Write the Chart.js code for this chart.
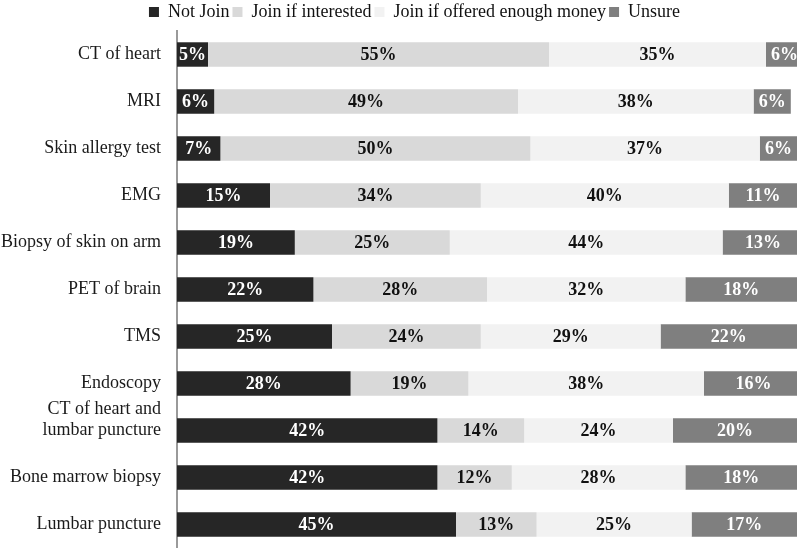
<!DOCTYPE html>
<html>
<head>
<meta charset="utf-8">
<script src="https://cdn.jsdelivr.net/npm/chart.js@4/dist/chart.umd.min.js"></script>
<style>
  html, body { margin: 0; padding: 0; background: #fff; }
  #wrap { width: 800px; height: 548px; position: relative; }
</style>
</head>
<body>
<div id="wrap"><canvas id="joinChart"></canvas></div>
<script>
// --- data ---
// (the empty third line lifts the two-line label so its 2nd line sits on the bar)
const procedures = [
    'CT of heart', 'MRI', 'Skin allergy test', 'EMG', 'Biopsy of skin on arm',
    'PET of brain', 'TMS', 'Endoscopy', ['CT of heart and', 'lumbar puncture', ''],
    'Bone marrow biopsy', 'Lumbar puncture'
];
const notJoin        = [5, 6, 7, 15, 19, 22, 25, 28, 42, 42, 45];
const joinInterested = [55, 49, 50, 34, 25, 28, 24, 19, 14, 12, 13];
const joinMoney      = [35, 38, 37, 40, 44, 32, 29, 38, 24, 28, 25];
const unsure         = [6, 6, 6, 11, 13, 18, 22, 16, 20, 18, 17];

const serif = "'Liberation Serif', 'Times New Roman', serif";

// draws the percent labels in the middle of each segment
const segmentLabels = {
    id: 'segmentLabels',
    afterDatasetsDraw(chart) {
        const ctx = chart.ctx;
        ctx.save();
        ctx.font = 'bold 18px ' + serif;
        ctx.textAlign = 'center';
        ctx.textBaseline = 'middle';
        chart.data.datasets.forEach((ds, i) => {
            const meta = chart.getDatasetMeta(i);
            meta.data.forEach((bar, j) => {
                const cx = (bar.x + bar.base) / 2;
                ctx.fillStyle = ds.labelColor;
                ctx.fillText(ds.data[j] + '%', cx, bar.y + 1);
            });
        });
        ctx.restore();
    }
};

// the original legend sits a little right of the page centre
const legendShift = {
    id: 'legendShift',
    afterLayout(chart) {
        if (chart.legend) chart.legend.left += 32;
    }
};

const ctxJoin = document.getElementById('joinChart');
new Chart(ctxJoin, {
    type: 'bar',
    data: {
        labels: procedures,
        datasets: [
            { label: 'Not Join', data: notJoin, backgroundColor: '#262626', labelColor: '#ffffff' },
            { label: 'Join if interested', data: joinInterested, backgroundColor: '#d9d9d9', labelColor: '#111111' },
            { label: 'Join if offered enough money', data: joinMoney, backgroundColor: '#f2f2f2', labelColor: '#111111' },
            { label: 'Unsure', data: unsure, backgroundColor: '#7f7f7f', labelColor: '#ffffff' }
        ]
    },
    options: {
        indexAxis: 'y',
        responsive: true,
        maintainAspectRatio: false,
        animation: false,
        datasets: { bar: { barPercentage: 0.52, categoryPercentage: 1.0, borderWidth: 0 } },
        layout: { padding: { left: 0, right: 3, top: 0, bottom: 0 } },
        plugins: {
            legend: {
                position: 'top',
                align: 'center',
                labels: {
                    boxWidth: 10,
                    boxHeight: 10,
                    padding: 3,
                    color: '#111',
                    font: { family: serif, size: 18 }
                }
            },
            tooltip: { enabled: false }
        },
        scales: {
            x: {
                stacked: true,
                min: 0,
                max: 100,
                display: false
            },
            y: {
                stacked: true,
                grid: { display: false, drawTicks: false },
                border: { color: '#9a9a9a', width: 2 },
                ticks: {
                    autoSkip: false,
                    color: '#1a1a1a',
                    padding: 16,
                    font: { family: serif, size: 18 }
                },
                // fixed axis position; no extra padding above/below the bars
                afterFit(scale) {
                    scale.width = 177;
                    scale.paddingTop = 0;
                    scale.paddingBottom = 0;
                }
            }
        }
    },
    plugins: [segmentLabels, legendShift]
});
</script>
</body>
</html>
